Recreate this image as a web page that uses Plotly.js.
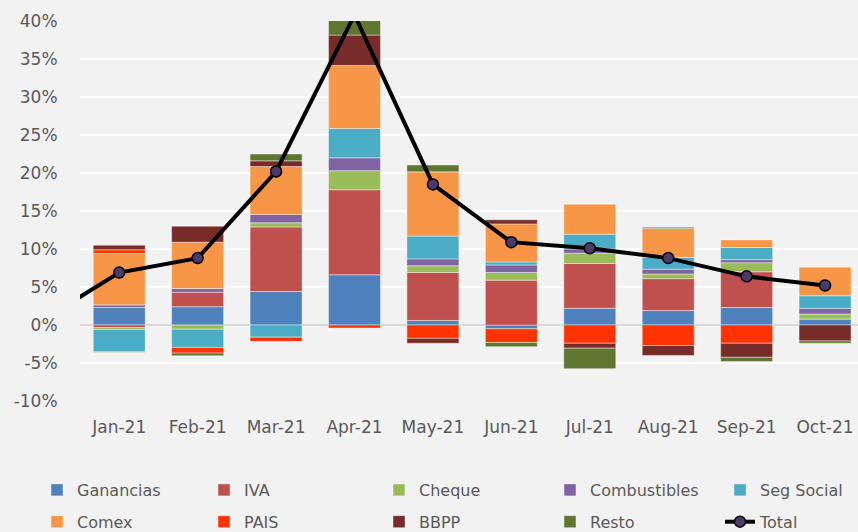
<!DOCTYPE html>
<html>
<head>
<meta charset="utf-8">
<script src="https://cdn.plot.ly/plotly-3.0.1.min.js"></script>
<style>
  html, body { margin: 0; padding: 0; background: #F2F2F2; }
  #chart { width: 858px; height: 532px; }
</style>
</head>
<body>
<div id="chart"></div>
<script>
// Categories (Dec-20 only carries the Total line, which starts left of the visible area)
const months = ['Dec-20', 'Jan-21', 'Feb-21', 'Mar-21', 'Apr-21', 'May-21', 'Jun-21', 'Jul-21', 'Aug-21', 'Sep-21', 'Oct-21'];
const barMonths = months.slice(1);

// Contributions (percentage points), Jan-21 .. Oct-21
const ganancias    = [2.3, 2.4, 4.4, 6.6, 0.6, -0.5, 2.2, 1.9, 2.3, 0.8];
const iva          = [-0.35, 1.9, 8.5, 11.2, 6.3, 5.9, 5.9, 4.2, 4.7, 0.0];
const cheque       = [-0.25, -0.55, 0.55, 2.5, 0.9, 1.0, 1.35, 0.6, 1.2, 0.65];
const combustibles = [0.35, 0.5, 1.1, 1.7, 0.9, 1.0, 0.55, 0.65, 0.4, 0.75];
const segSocial    = [-2.9, -2.4, -1.6, 3.85, 3.0, 0.4, 1.95, 1.55, 1.6, 1.65];
const comex        = [6.75, 6.1, 6.3, 8.3, 8.45, 5.0, 3.95, 3.8, 1.0, 3.8];
const pais         = [0.5, -0.75, -0.55, -0.4, -1.75, -1.8, -2.4, -2.7, -2.4, 0.0];
const bbpp         = [0.6, 2.1, 0.75, 4.0, -0.65, 0.55, -0.65, -1.3, -1.85, -2.1];
const resto        = [-0.1, -0.35, 0.9, 3.0, 0.9, -0.55, -2.7, 0.15, -0.55, -0.3];

// Total (Dec-20 .. Oct-21)
const total = [0.5, 6.9, 8.8, 20.2, 40.8, 18.5, 10.9, 10.1, 8.8, 6.4, 5.2];

// Y-axis ticks
const yTicks = [-10, -5, 0, 5, 10, 15, 20, 25, 30, 35, 40];
const yTickLabels = ['-10%', '-5%', '0%', '5%', '10%', '15%', '20%', '25%', '30%', '35%', '40%'];

const seriesNames  = ['Ganancias', 'IVA', 'Cheque', 'Combustibles', 'Seg Social', 'Comex', 'PAIS', 'BBPP', 'Resto'];
const seriesValues = [ganancias, iva, cheque, combustibles, segSocial, comex, pais, bbpp, resto];
const seriesColors = ['#4F81BD', '#C0504D', '#9BBB59', '#8064A2', '#4BACC6', '#F79646', '#FF3300', '#772C2A', '#5F7530'];

const FONT = 'DejaVu Sans, Verdana, sans-serif';
const TXT = '#595959';

// legend column of each entry (5 columns, 2 rows)
const legendIds = ['legend', 'legend2', 'legend3', 'legend4', 'legend5'];

const traces = seriesNames.map((name, i) => ({
  type: 'bar',
  name: name,
  x: barMonths,
  y: seriesValues[i],
  marker: { color: seriesColors[i], line: { color: 'rgba(255,255,255,0.55)', width: 0.75 } },
  legend: legendIds[i % 5],
  legendgroup: name,
  hoverinfo: 'skip'
}));

traces.push({
  type: 'scatter',
  mode: 'lines+markers',
  name: 'Total',
  x: months,
  y: total,
  line: { color: '#000000', width: 4 },
  marker: { color: '#4B3B6B', size: 11, line: { color: '#000000', width: 1.5 } },
  legend: 'legend5',
  legendgroup: 'Total',
  hoverinfo: 'skip'
});

const colX = [37, 204, 379, 550, 720];
function legendAt(px) {
  return {
    orientation: 'v',
    xref: 'container', yref: 'container',
    x: px / 858, xanchor: 'left',
    y: 1 - 506 / 532, yanchor: 'middle',
    font: { family: FONT, size: 16, color: TXT },
    bgcolor: 'rgba(0,0,0,0)',
    traceorder: 'grouped',
    tracegroupgap: 8
  };
}

const layout = {
  width: 858, height: 532,
  paper_bgcolor: '#F2F2F2',
  plot_bgcolor: '#F2F2F2',
  margin: { l: 80, r: 0, t: 21, b: 131, autoexpand: false },
  barmode: 'relative',
  bargap: 0.337,
  showlegend: true,
  xaxis: {
    type: 'category',
    categoryorder: 'array',
    categoryarray: months,
    range: [0.5, 10.42],
    showgrid: false,
    zeroline: false,
    showline: false,
    automargin: false,
    tickangle: 0,
    ticks: 'outside', ticklen: 11, tickcolor: 'rgba(0,0,0,0)',
    tickfont: { family: FONT, size: 17, color: TXT },
    fixedrange: true
  },
  yaxis: {
    range: [-10, 40],
    tickmode: 'array',
    tickvals: yTicks,
    ticktext: yTickLabels,
    showgrid: true,
    gridcolor: '#FFFFFF',
    gridwidth: 1.5,
    zeroline: true,
    zerolinecolor: '#D9D9D9',
    zerolinewidth: 2,
    showline: false,
    automargin: false,
    ticks: 'outside', ticklen: 18, tickcolor: 'rgba(0,0,0,0)',
    tickfont: { family: FONT, size: 17, color: TXT },
    fixedrange: true
  }
};
legendIds.forEach((id, k) => { layout[id] = legendAt(colX[k]); });

Plotly.newPlot('chart', traces, layout, { displayModeBar: false, staticPlot: true });
</script>
</body>
</html>
